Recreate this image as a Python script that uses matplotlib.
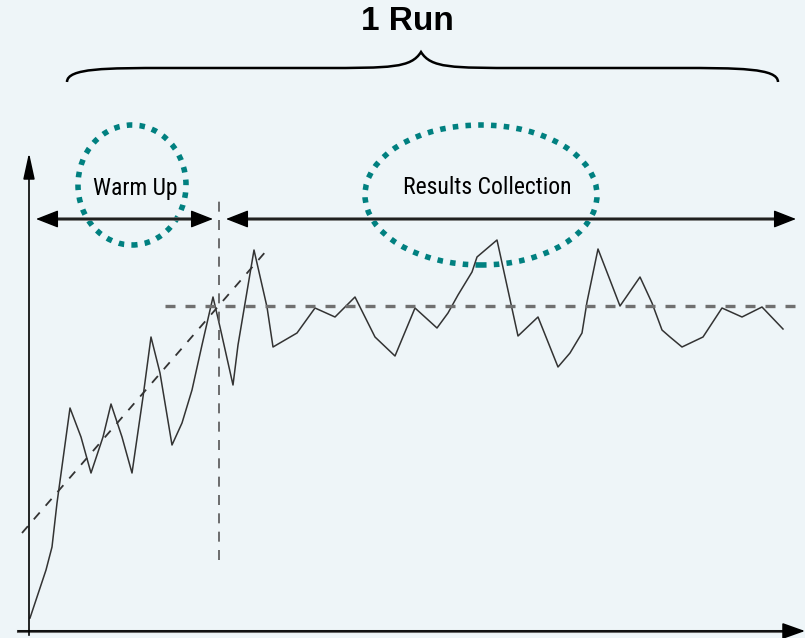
import matplotlib.pyplot as plt
from matplotlib import font_manager
from matplotlib.patches import Ellipse, PathPatch
from matplotlib.path import Path

H = 638
t = [30, 46, 52, 57, 70, 81, 91, 103, 111, 122, 132, 143, 151, 160, 172, 182,
     192, 202, 213, 220, 233, 238, 254, 267, 273, 297, 315, 335, 355, 375, 395,
     415, 437, 448, 458, 472, 477, 497, 518, 538, 558, 570, 582, 587, 598, 610,
     620, 640, 652, 662, 670, 682, 703, 722, 742, 762, 783]
resp_px = [618, 570, 547, 503, 408, 437, 473, 437, 404, 437, 473, 397, 337, 373,
           445, 423, 390, 345, 297, 327, 385, 345, 250, 307, 347, 333, 308, 317,
           297, 337, 356, 308, 328, 313, 295, 272, 257, 240, 336, 317, 367, 353,
           333, 302, 249, 280, 306, 277, 303, 330, 337, 347, 337, 308, 317, 307,
           329]
resp = [H - v for v in resp_px]

trend_x = [22, 267]
trend_y = [H - 533, H - 250]
steady_level = H - 306
steady_start = 165
warmup_end = 219

bg = "#eef5f8"
teal = "#008080"

installed = {f.name for f in font_manager.fontManager.ttflist}
narrow = [f for f in ["Liberation Sans Narrow", "DejaVu Sans Condensed",
                      "Roboto Condensed", "Open Sans Condensed"] if f in installed]
narrow = narrow + ["DejaVu Sans"]

fig = plt.figure(figsize=(8.05, 6.38), dpi=100)
fig.patch.set_facecolor(bg)
ax = fig.add_axes([0, 0, 1, 1])
ax.set_facecolor(bg)
ax.set_xlim(0, 805)
ax.set_ylim(0, H)
ax.axis("off")

# axes with arrows
ax.annotate("", xy=(29, H - 150), xytext=(29, H - 638),
            arrowprops=dict(arrowstyle="-|>,head_length=1.6,head_width=0.35",
                            color="black", lw=1.2))
ax.annotate("", xy=(805, H - 631), xytext=(18, H - 631),
            arrowprops=dict(arrowstyle="-|>,head_length=1.4,head_width=0.5",
                            color="black", lw=1.2, shrinkA=0, shrinkB=0))
ax.plot([18, 790], [H - 631, H - 631], color="#666666", lw=2.2)

# response curve
ax.plot(t, resp, color="#333333", lw=1.1)

# warm-up trend and steady state level
ax.plot(trend_x, trend_y, color="#333333", lw=1.3, ls=(0, (5, 5)))
ax.plot([steady_start, 805], [steady_level, steady_level], color="#707070",
        lw=2.4, ls=(0, (3, 3)))
ax.plot([warmup_end, warmup_end], [H - 560, H - 195], color="#555555",
        lw=1.2, ls=(0, (6, 5)))

# phase arrows
for x0, x1 in [(36, 213), (226, 796)]:
    ax.annotate("", xy=(x1, H - 219), xytext=(x0, H - 219),
                arrowprops=dict(arrowstyle="<|-|>,head_length=1.4,head_width=0.55",
                                color="black", lw=1.0, shrinkA=0, shrinkB=0))
    ax.plot([x0 + 12, x1 - 12], [H - 219, H - 219], color="#6a6a6a", lw=2.6)

ax.text(135, H - 188, "Warm Up", ha="center", va="center", fontsize=17,
        family=narrow, fontstretch="condensed")
ax.text(487, H - 188, "Results Collection", ha="center", va="center",
        fontsize=17, family=narrow, fontstretch="condensed")

# dotted highlight circles
ax.add_patch(Ellipse((132, H - 185), 108, 120, fill=False, ec=teal, lw=4,
                     ls=(0, (1, 1.3))))
ax.add_patch(Ellipse((481, H - 195), 232, 140, fill=False, ec=teal, lw=4,
                     ls=(0, (1, 1.3))))

# brace over the whole run
xl, xr, xm = 67, 778, 421
yt, yf, ym = H - 82, H - 68, H - 52
verts = [(xl, yt), (xl, yf), (xl + 40, yf), (xl + 100, yf),
         (xm - 100, yf), (xm - 30, yf), (xm - 10, yf), (xm, ym),
         (xm + 10, yf), (xm + 30, yf), (xm + 100, yf),
         (xr - 100, yf), (xr - 40, yf), (xr, yf), (xr, yt)]
codes = [Path.MOVETO, Path.CURVE4, Path.CURVE4, Path.CURVE4,
         Path.LINETO, Path.CURVE4, Path.CURVE4, Path.CURVE4,
         Path.CURVE4, Path.CURVE4, Path.CURVE4,
         Path.LINETO, Path.CURVE4, Path.CURVE4, Path.CURVE4]
ax.add_patch(PathPatch(Path(verts, codes), fill=False, ec="black", lw=1.8))

ax.text(407, H - 22, "1 Run", ha="center", va="center", fontsize=24,
        fontweight="bold", family=["Liberation Sans", "DejaVu Sans"])

fig.savefig("out.png", dpi=100, facecolor=bg)
